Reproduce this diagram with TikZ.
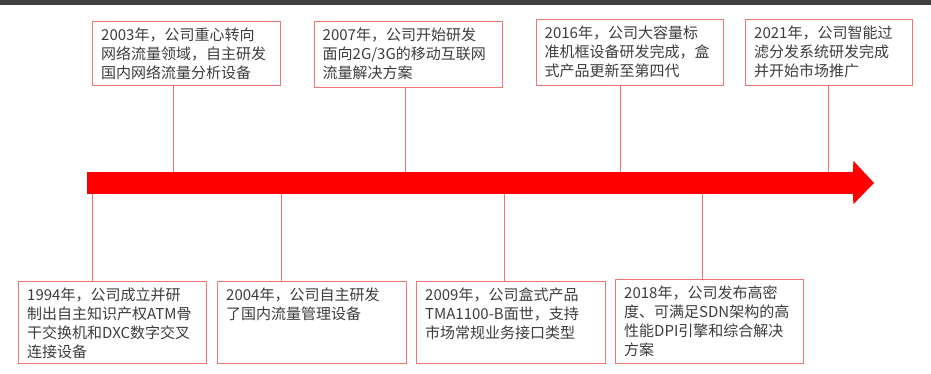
\documentclass[tikz,border=0pt]{standalone}
\usepackage{fontspec}
\setmainfont{Noto Sans CJK SC}
\definecolor{boxred}{RGB}{240,118,118}
\definecolor{linered}{RGB}{246,110,110}
\definecolor{arrowred}{RGB}{255,0,0}
\definecolor{textgray}{RGB}{60,60,60}
\definecolor{topgray}{RGB}{64,64,64}
\tikzset{
  box/.style={draw=boxred, line width=1pt, inner sep=0pt, anchor=north west},
  txt/.style={inner sep=0pt, align=left, text=textgray, font=\fontsize{15}{19}\selectfont, anchor=north west},
  conn/.style={draw=linered, line width=0.9pt},
}
\newcommand{\evbox}[6]{%
  \node[box, minimum width=#4pt, minimum height=#5pt] (b#1) at (#2pt,-#3pt) {};
  \node[txt] (t#1) at ([shift={(9pt,-6.5pt)}]b#1.north west) {#6};
}
\begin{document}
\begin{tikzpicture}[x=1pt,y=1pt]
\useasboundingbox (0,0) rectangle (931,-374);
\node[fill=topgray, minimum width=931pt, minimum height=4.5pt, inner sep=0pt, anchor=north west] (topbar) at (0,0) {};
% arrow
\node[fill=arrowred, inner sep=0pt, minimum width=766pt, minimum height=22pt, anchor=west] (body) at (87,-183) {};
\node[coordinate] (tip) at (874,-183) {};
\fill[arrowred] ([xshift=-0.5pt]body.north east) -- ([yshift=11pt]body.north east) -- (tip) -- ([yshift=-10pt]body.south east) -- ([xshift=-0.5pt]body.south east) -- cycle;
% top boxes
\evbox{2003}{92}{21.5}{188}{64}{2003年，公司重心转向\\网络流量领域，自主研发\\国内网络流量分析设备}
\evbox{2007}{313.5}{21}{188.5}{66}{2007年，公司开始研发\\面向2G/3G的移动互联网\\流量解决方案}
\evbox{2016}{535.5}{19}{187.5}{66}{2016年，公司大容量标\\准机框设备研发完成，盒\\式产品更新至第四代}
\evbox{2021}{745}{19}{166.5}{66}{2021年，公司智能过\\滤分发系统研发完成\\并开始市场推广}
% bottom boxes
\evbox{1994}{18}{281}{188}{82}{1994年，公司成立并研\\制出自主知识产权ATM骨\\干交换机和DXC数字交叉\\连接设备}
\evbox{2004}{217}{281}{188.5}{82}{2004年，公司自主研发\\了国内流量管理设备}
\evbox{2009}{416}{281}{188.5}{82}{2009年，公司盒式产品\\TMA1100-B面世，支持\\市场常规业务接口类型}
\evbox{2018}{615}{279}{188}{84}{2018年，公司发布高密\\度、可满足SDN架构的高\\性能DPI引擎和综合解决\\方案}
% connector positions
\coordinate (k2003) at (173,0);
\coordinate (k2007) at (405,0);
\coordinate (k2016) at (620.5,0);
\coordinate (k2021) at (828,0);
\coordinate (k1994) at (92,0);
\coordinate (k2004) at (281,0);
\coordinate (k2009) at (504,0);
\coordinate (k2018) at (702.5,0);
\foreach \n in {2003,2007,2016,2021}{
  \draw[conn] (b\n.south -| k\n) -- (k\n |- body.north);
}
\foreach \n in {1994,2004,2009,2018}{
  \draw[conn] (k\n |- body.south) -- (b\n.north -| k\n);
}
\end{tikzpicture}
\end{document}
